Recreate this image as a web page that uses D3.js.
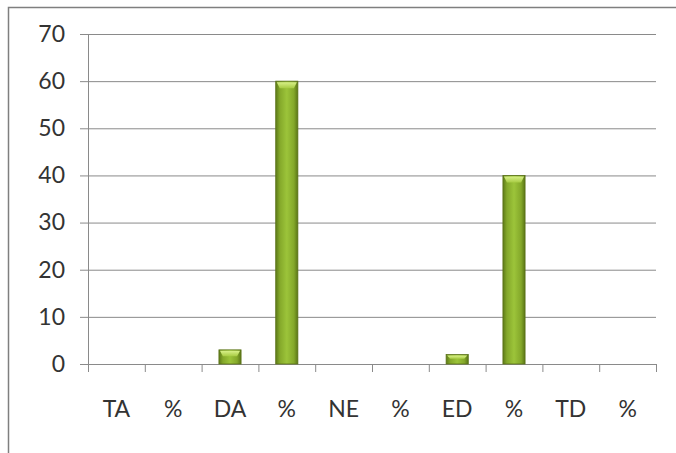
<html>
<head>
    <meta charset="utf-8">
    <script src="https://d3js.org/d3.v7.min.js"></script>
    <style>
        body { margin: 0; background: #fff; }
        text { font-family: Lato, "Open Sans", sans-serif; fill: #333; }
        .gridlines line { stroke: #8a8a8a; }
        .gridlines .domain { stroke: none; }
    </style>
</head>
<body>
<svg id="chart"></svg>
<script>
    // data
    const categories = ["TA", "%", "DA", "%", "NE", "%", "ED", "%", "TD", "%"];
    const values = [0, 0, 3, 60, 0, 0, 2, 40, 0, 0];
    const yTicks = [0, 10, 20, 30, 40, 50, 60, 70];

    const width = 676, height = 453;
    const margins = {top: 34, right: 20, bottom: 89, left: 88};
    const chartWidth = width - margins.left - margins.right;
    const chartHeight = height - margins.top - margins.bottom;

    let svg = d3.select("svg#chart")
                .attr("width", width)
                .attr("height", height);

    // outer frame
    svg.append("rect")
       .attr("x", 8.5).attr("y", 7.5)
       .attr("width", width + 10).attr("height", height + 10)
       .attr("fill", "none")
       .attr("stroke", "#7f7f7f")
       .attr("stroke-width", 1.5);

    let defs = svg.append("defs");
    let grad = defs.append("linearGradient").attr("id", "barGrad")
                   .attr("x1", "0%").attr("x2", "100%").attr("y1", "0%").attr("y2", "0%");
    grad.append("stop").attr("offset", "0%").attr("stop-color", "#5d7a18");
    grad.append("stop").attr("offset", "18%").attr("stop-color", "#84a82a");
    grad.append("stop").attr("offset", "50%").attr("stop-color", "#9cc43a");
    grad.append("stop").attr("offset", "82%").attr("stop-color", "#84a82a");
    grad.append("stop").attr("offset", "100%").attr("stop-color", "#5a7516");

    let capGrad = defs.append("linearGradient").attr("id", "capGrad")
                      .attr("x1", "0%").attr("x2", "0%").attr("y1", "0%").attr("y2", "100%");
    capGrad.append("stop").attr("offset", "0%").attr("stop-color", "#d8f088");
    capGrad.append("stop").attr("offset", "100%").attr("stop-color", "#a8cc44");

    let chartArea = svg.append("g")
                       .attr("transform", `translate(${margins.left}, ${margins.top})`);

    // category edges and bar width
    const scaleEdge = d3.scaleLinear().domain([0, categories.length]).range([0, chartWidth]);
    const bandStep = chartWidth / categories.length;
    const bw = bandStep * 0.39;
    const scaleY = d3.scaleLinear()
                     .domain([0, 70])
                     .range([chartHeight, 0]);

    // gridlines
    chartArea.append("g")
             .attr("class", "gridlines")
             .call(d3.axisLeft(scaleY).tickValues(yTicks).tickSize(-chartWidth).tickFormat(""));

    // y axis
    let leftAxis = chartArea.append("g")
             .call(d3.axisLeft(scaleY).tickValues(yTicks).tickSize(8).tickPadding(15));
    leftAxis.select(".domain").attr("stroke", "#8a8a8a");
    leftAxis.selectAll(".tick line").attr("stroke", "#8a8a8a");
    leftAxis.selectAll("text").attr("font-size", null).style("font-size", "23px");

    // x axis (ticks on category boundaries)
    let botAxis = chartArea.append("g")
             .attr("transform", `translate(0, ${chartHeight})`)
             .call(d3.axisBottom(scaleEdge).tickValues(d3.range(categories.length + 1))
                     .tickSize(8).tickFormat(""));
    botAxis.select(".domain").attr("stroke", "#8a8a8a");
    botAxis.selectAll(".tick line").attr("stroke", "#8a8a8a");

    chartArea.append("g")
             .selectAll("text")
             .data(categories)
             .join("text")
             .attr("x", (d, i) => scaleEdge(i + 0.5))
             .attr("y", chartHeight + 53)
             .attr("text-anchor", "middle")
             .style("font-size", "23px")
             .text(d => d);

    // bars
    const barData = values.map((v, i) => ({i, v})).filter(d => d.v > 0);
    let bars = chartArea.append("g").selectAll("g").data(barData).join("g");
    const barX = d => scaleEdge(d.i + 0.5) - bw / 2;

    bars.append("rect")
        .attr("x", barX)
        .attr("y", d => scaleY(d.v))
        .attr("width", bw)
        .attr("height", d => chartHeight - scaleY(d.v))
        .attr("fill", "url(#barGrad)")
        .attr("stroke", "#5a7218")
        .attr("stroke-width", 0.8);

    // bevel cap on top of each bar
    bars.append("path")
        .attr("d", d => {
            const x0 = barX(d);
            const y0 = scaleY(d.v);
            const h = Math.min(7, (chartHeight - y0) * 0.45);
            return `M${x0 + 1},${y0 + 1} L${x0 + bw - 1},${y0 + 1} L${x0 + bw - 4},${y0 + h} L${x0 + 4},${y0 + h} Z`;
        })
        .attr("fill", "url(#capGrad)");
</script>
</body>
</html>
